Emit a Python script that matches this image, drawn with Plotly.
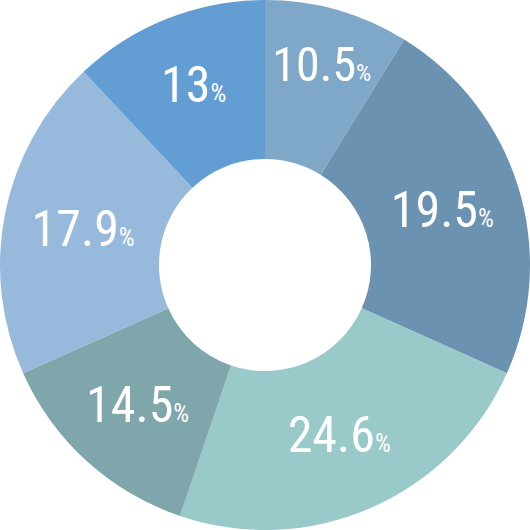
import plotly.graph_objects as go

categories = ["A", "B", "C", "D", "E", "F"]
# percentages printed on the slices
label_values = [10.5, 19.5, 24.6, 14.5, 17.9, 13]
# slice sizes as drawn in the picture (measured from the slice boundaries)
slice_values = [8.8, 22.9, 23.5, 13.1, 19.7, 12.0]
colors = ["#7fa7c8", "#6b93b1", "#99c9c8", "#7ea6ab", "#97badc", "#629ed4"]

texts = [f"{v:g}<span style='font-size:25px'>%</span>" for v in label_values]

fig = go.Figure(go.Pie(
    labels=categories,
    values=slice_values,
    hole=0.4,
    sort=False,
    direction="clockwise",
    rotation=0,
    marker=dict(colors=colors, line=dict(width=0)),
    text=texts,
    textinfo="text",
    textposition="inside",
    insidetextorientation="horizontal",
    insidetextfont=dict(family="Roboto Condensed, Roboto", size=50, color="white"),
    showlegend=False,
    hoverinfo="skip",
))
fig.update_layout(
    width=530, height=530,
    margin=dict(l=0, r=0, t=0, b=0),
    paper_bgcolor="white",
    plot_bgcolor="white",
)
fig.write_html(
    "out.html",
    config={"displayModeBar": False},
    post_script="document.body.style.margin='0';document.body.style.overflow='hidden';",
)
